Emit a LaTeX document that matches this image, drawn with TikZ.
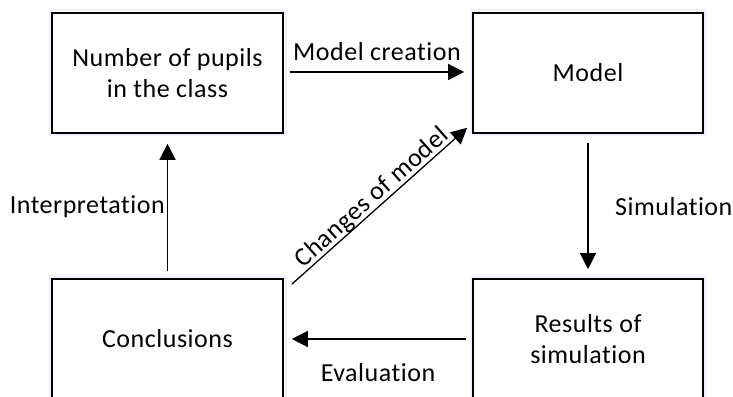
\documentclass[tikz,border=0pt]{standalone}
\usepackage{fontspec}
\setmainfont{Carlito}[LetterSpace=2, Ligatures={NoCommon,NoRare,NoContextual}]
\usetikzlibrary{arrows.meta}
\begin{document}
\begin{tikzpicture}[x=1pt,y=1pt,
  box/.style={draw=black, line width=1.6pt, fill=white, minimum width=231pt, minimum height=120pt,
    align=center, inner sep=0pt, font=\fontsize{26}{31}\selectfont,
    preaction={draw=blue!5, line width=7pt}},
  conn/.style={line width=1.3pt, -{Triangle[length=16pt,width=16pt]}},
  lbl/.style={font=\fontsize{26}{31}\selectfont, inner sep=2pt}]
\useasboundingbox (0,0) rectangle (733,396);
\clip (0,0) rectangle (733,396);
\node[box] (A) at (167.5,323) {Number of pupils\\in the class};
\node[box, minimum width=230pt] (B) at (588,323) {Model};
\node[box] (C) at (167.5,57) {Conclusions};
\node[box, minimum width=230pt] (D) at (588,57) {Results of\\simulation};
\draw[conn, shorten <=6pt, shorten >=8pt] (A.east |- 0,324) -- (B.west |- 0,324);
\node[lbl] (mc) at (377,344) {Model creation};
\draw[conn, shorten <=9pt, shorten >=9pt] (B.south) -- (D.north);
\node[lbl, anchor=west] (sim) at (613,189) {Simulation};
\draw[conn, shorten <=6pt, shorten >=8pt] (D.west |- 0,57) -- (C.east |- 0,57);
\node[lbl] (ev) at (378,23) {Evaluation};
\draw[conn, shorten <=7pt, shorten >=10pt] (C.north) -- (A.north |- A.south);
\node[lbl, anchor=east] (int) at (167,189) {Interpretation};
\draw[conn] ([shift={(8pt,-6pt)}]C.north east) -- node[lbl, midway, above, sloped, yshift=-3pt] (ch) {Changes of model} ([shift={(-5pt,6pt)}]B.south west);
\end{tikzpicture}
\end{document}
